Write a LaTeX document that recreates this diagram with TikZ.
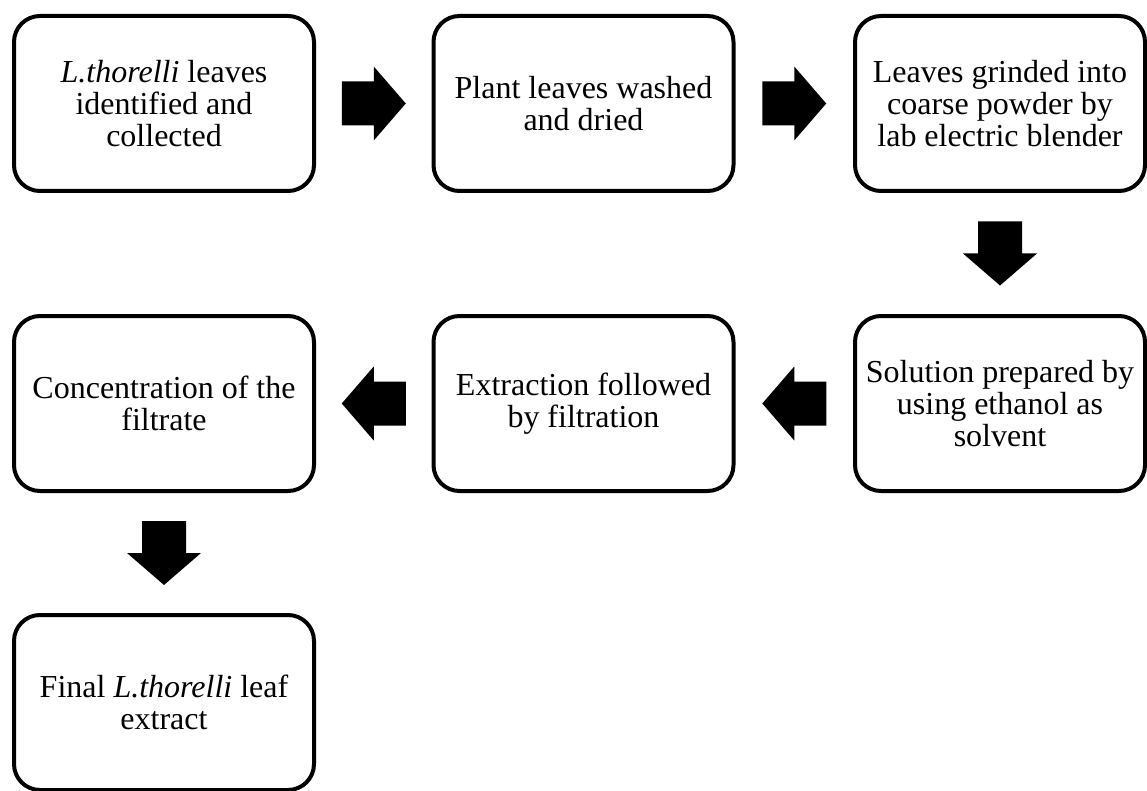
\documentclass[tikz,border=0pt]{standalone}
\usepackage{fontspec}
\setmainfont{Liberation Serif}
\usepackage{tikz}
\usetikzlibrary{calc}

\tikzset{
    stepbox/.style={draw, line width=4pt, rounded corners=26pt, align=center,
        minimum width=300pt, minimum height=175pt, inner sep=0pt,
        font=\fontsize{32}{32}\selectfont},
    blockarrow/.pic={\fill (-32,-22) -- (0,-22) -- (0,-37) -- (32,0) -- (0,37) -- (0,22) -- (-32,22) -- cycle;}
}

\begin{document}
\begin{tikzpicture}[x=1pt, y=-1pt]
    \useasboundingbox (0,0) rectangle (1147,791);

    % Process steps
    \node[stepbox] (collect) at (164,103.5) {\textit{L.thorelli} leaves\\identified and\\collected};
    \node[stepbox] (wash) at (583.5,103.5) {Plant leaves washed\\and dried};
    \node[stepbox, minimum width=290pt] (grind) at (1000,103.5) {Leaves grinded into\\coarse powder by\\lab electric blender};
    \node[stepbox, minimum width=290pt] (solution) at (1000,403.5) {Solution prepared by\\using ethanol as\\solvent};
    \node[stepbox] (filter) at (583.5,403.5) {Extraction followed\\by filtration};
    \node[stepbox] (concentrate) at (164,403.5) {Concentration of the\\filtrate};
    \node[stepbox] (final) at (164,702.5) {Final \textit{L.thorelli} leaf\\extract};

    % Block arrows between steps
    \pic at ($(collect.east)!.5!(wash.west)$) {blockarrow};
    \pic at ($(wash.east)!.5!(grind.west)$) {blockarrow};
    \pic[rotate=-90] at ($(grind.south)!.5!(solution.north)$) {blockarrow};
    \pic[rotate=180] at ($(solution.west)!.5!(filter.east)$) {blockarrow};
    \pic[rotate=180] at ($(filter.west)!.5!(concentrate.east)$) {blockarrow};
    \pic[rotate=-90] at ($(concentrate.south)!.5!(final.north)$) {blockarrow};
\end{tikzpicture}
\end{document}
